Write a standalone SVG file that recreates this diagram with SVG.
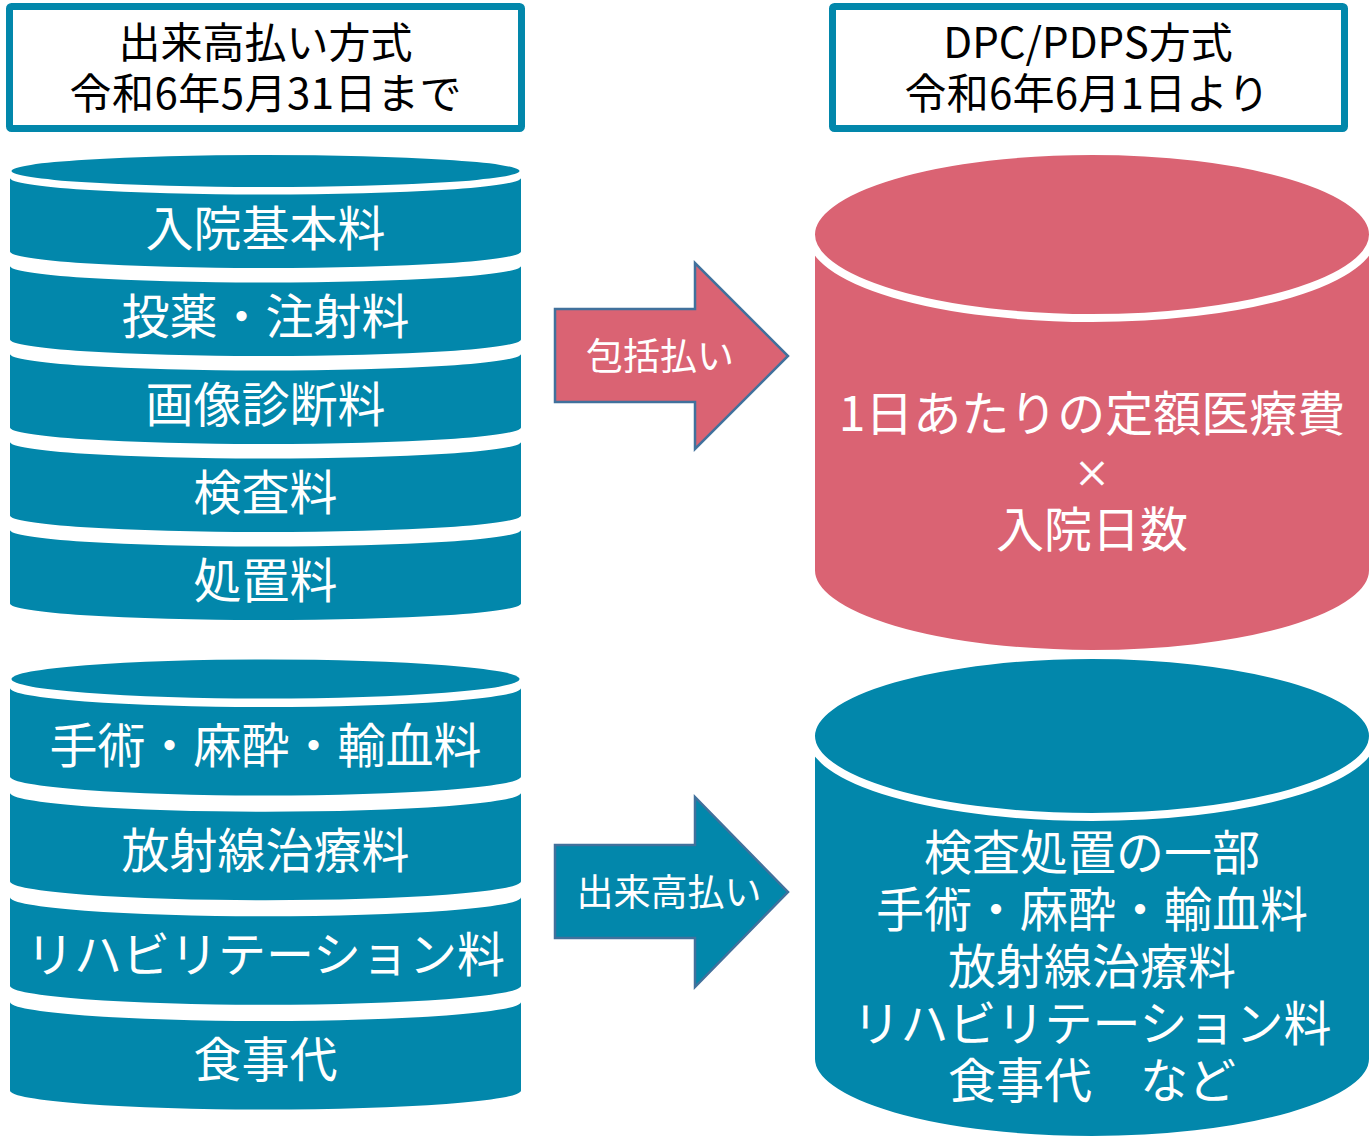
<svg xmlns="http://www.w3.org/2000/svg" width="1370" height="1136" viewBox="0 0 1370 1136">
<style>
text{font-family:"Noto Sans CJK JP","Noto Sans CJK SC",sans-serif;text-anchor:middle}
.hd{font-size:42px;fill:#000}
.w{font-size:48px;fill:#fff}
.x{font-size:36px;fill:#fff;stroke:#fff;stroke-width:0.8}
.aw{font-size:37px;fill:#fff}
.teal{fill:#0287AB}
.pink{fill:#DA6373}
.band{fill:#0287AB}
.cyl{stroke:#fff;stroke-width:8}
.box{fill:#fff;stroke:#0287AB;stroke-width:7}
.arrow{stroke:#41719C;stroke-width:2.5;stroke-linejoin:miter}
</style>
<rect width="1370" height="1136" fill="#fff"/>

<g id="header-left">
<rect class="box" x="9.5" y="6.5" width="512" height="122" rx="2"/>
<text class="hd" x="265.5" y="58">出来高払い方式</text>
<text class="hd" x="265.5" y="108.5" textLength="392" lengthAdjust="spacing">令和6年5月31日まで</text>
</g>

<g id="header-right">
<rect class="box" x="832.5" y="6.5" width="512" height="122" rx="2"/>
<text class="hd" x="1088" y="58">DPC/PDPS方式</text>
<text class="hd" x="1087" y="108.5" textLength="365" lengthAdjust="spacing">令和6年6月1日より</text>
</g>

<g id="stack-top">
<ellipse class="teal" cx="265.5" cy="171" rx="254" ry="16"/>
<g id="band-nyuin">
<path class="band" d="M10,178 A255.5,16.5 0 0 0 521,178 L521,251.5 A255.5,16.5 0 0 1 10,251.5 Z"/>
<text class="w" x="265.5" y="246">入院基本料</text>
</g>
<g id="band-toyaku">
<path class="band" d="M10,266 A255.5,16.5 0 0 0 521,266 L521,339.5 A255.5,16.5 0 0 1 10,339.5 Z"/>
<text class="w" x="265.5" y="334">投薬・注射料</text>
</g>
<g id="band-gazo">
<path class="band" d="M10,354 A255.5,16.5 0 0 0 521,354 L521,427.5 A255.5,16.5 0 0 1 10,427.5 Z"/>
<text class="w" x="265.5" y="422">画像診断料</text>
</g>
<g id="band-kensa">
<path class="band" d="M10,442 A255.5,16.5 0 0 0 521,442 L521,515.5 A255.5,16.5 0 0 1 10,515.5 Z"/>
<text class="w" x="265.5" y="510">検査料</text>
</g>
<g id="band-shochi">
<path class="band" d="M10,530 A255.5,16.5 0 0 0 521,530 L521,603.5 A255.5,16.5 0 0 1 10,603.5 Z"/>
<text class="w" x="265.5" y="598">処置料</text>
</g>
</g>

<g id="stack-bottom">
<ellipse class="teal" cx="265.5" cy="679" rx="254" ry="19.5"/>
<g id="band-shujutsu">
<path class="band" d="M10,688 A255.5,19 0 0 0 521,688 L521,776.5 A255.5,19 0 0 1 10,776.5 Z"/>
<text class="w" x="265.5" y="763">手術・麻酔・輸血料</text>
</g>
<g id="band-hoshasen">
<path class="band" d="M10,792.7 A255.5,19 0 0 0 521,792.7 L521,881.2 A255.5,19 0 0 1 10,881.2 Z"/>
<text class="w" x="265.5" y="868">放射線治療料</text>
</g>
<g id="band-reha">
<path class="band" d="M10,897.3 A255.5,19 0 0 0 521,897.3 L521,985.8 A255.5,19 0 0 1 10,985.8 Z"/>
<text class="w" x="265.5" y="972">リハビリテーション料</text>
</g>
<g id="band-shokuji">
<path class="band" d="M10,1002 A255.5,19 0 0 0 521,1002 L521,1090.5 A255.5,19 0 0 1 10,1090.5 Z"/>
<text class="w" x="265.5" y="1077">食事代</text>
</g>
</g>

<g id="connectors">
<g id="arrow-hokatsu">
<polygon class="pink arrow" points="555,309 695,309 695,263 788,356 695,449 695,402 555,402"/>
<text class="aw" x="660" y="370">包括払い</text>
</g>
<g id="arrow-dekidaka">
<polygon class="teal arrow" points="555,845 695,845 695,797 788,892 695,987 695,938 555,938"/>
<text class="aw" x="669" y="906">出来高払い</text>
</g>
</g>

<g id="cyl-dpc">
<path class="pink cyl" d="M811,234.5 L811,570.5 A281,83.5 0 0 0 1373,570.5 L1373,234.5 Z"/>
<ellipse class="pink cyl" cx="1092" cy="234.5" rx="281" ry="83.5"/>
<text class="w" x="1092" y="431">1日あたりの定額医療費</text>
<text class="x" x="1092" y="487">×</text>
<text class="w" x="1092" y="547">入院日数</text>
</g>

<g id="cyl-dekidaka">
<path class="teal cyl" d="M811,736 L811,1059 A281,81 0 0 0 1373,1059 L1373,736 Z"/>
<ellipse class="teal cyl" cx="1092" cy="736" rx="281" ry="81"/>
<text class="w" x="1092" y="870">検査処置の一部</text>
<text class="w" x="1092" y="927">手術・麻酔・輸血料</text>
<text class="w" x="1092" y="984">放射線治療料</text>
<text class="w" x="1092" y="1041">リハビリテーション料</text>
<text class="w" x="1092" y="1098">食事代　など</text>
</g>
</svg>
